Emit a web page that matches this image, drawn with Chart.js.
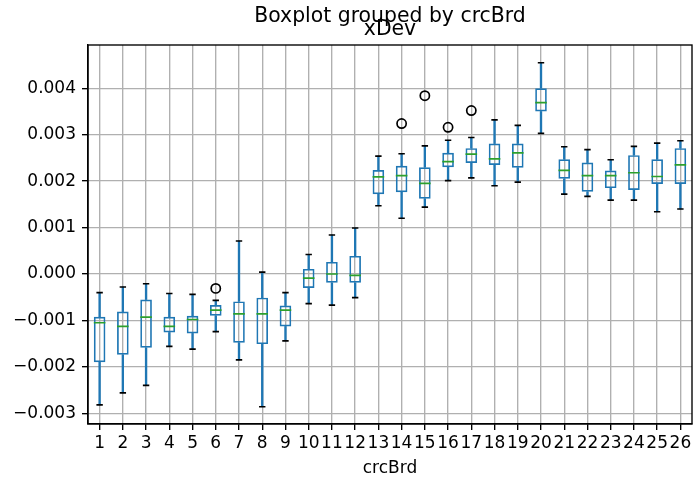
<!DOCTYPE html>
<html lang="en">
    <head>
        <meta charset="UTF-8">
        <title>xDev by crcBrd</title>
        <script src="https://cdn.jsdelivr.net/npm/chart.js@4.4.0/dist/chart.umd.min.js"></script>
        <style>
            body { margin: 0; background: #fff; }
            #wrap { width: 695px; height: 481px; }
        </style>
    </head>
    <body>
        <div id="wrap"><canvas id="boxChart"></canvas></div>
        <script>
            // values (x 0.001)
            var boards    = ['1','2','3','4','5','6','7','8','9','10','11','12','13','14','15','16','17','18','19','20','21','22','23','24','25','26'];
            var whiskLow  = [-2.82,-2.56,-2.40,-1.56,-1.62,-1.24,-1.85,-2.86,-1.44,-0.64,-0.67,-0.51, 1.47, 1.20, 1.44, 2.01, 2.07, 1.90, 1.98, 3.03, 1.72, 1.67, 1.59, 1.59, 1.34, 1.40];
            var q1        = [-1.90,-1.74,-1.59,-1.26,-1.28,-0.90,-1.48,-1.51,-1.13,-0.30,-0.19,-0.19, 1.72, 1.76, 1.62, 2.30, 2.39, 2.35, 2.29, 3.50, 2.05, 1.77, 1.85, 1.81, 1.94, 1.94];
            var median    = [-1.05,-1.13,-0.93,-1.13,-0.98,-0.78,-0.86,-0.86,-0.78,-0.09, 0.00,-0.03, 2.09, 2.12, 1.95, 2.42, 2.58, 2.48, 2.61, 3.69, 2.23, 2.12, 2.12, 2.18, 2.10, 2.35];
            var q3        = [-0.92,-0.81,-0.55,-0.92,-0.90,-0.67,-0.59,-0.51,-0.68, 0.11, 0.26, 0.39, 2.24, 2.33, 2.30, 2.61, 2.71, 2.81, 2.81, 4.00, 2.47, 2.40, 2.23, 2.56, 2.47, 2.71];
            var whiskHigh = [-0.40,-0.28,-0.21,-0.42,-0.44,-0.57, 0.71, 0.04,-0.40, 0.42, 0.84, 0.99, 2.54, 2.59, 2.76, 2.88, 2.94, 3.32, 3.20, 4.55, 2.74, 2.68, 2.46, 2.75, 2.82, 2.87];
            var fliers    = [null,null,null,null,null,-0.31,null,null,null,null,null,null,null, 3.24, 3.84, 3.16, 3.52,null,null,null,null,null,null,null,null,null];
            var yTicks    = [-3, -2, -1, 0, 1, 2, 3, 4];

            var suptitle = 'Boxplot grouped by crcBrd';
            var subtitle = 'xDev';

            function scaled(arr) {
                return arr.map(function (v) { return v === null ? null : v / 1000; });
            }
            var lo = scaled(whiskLow), b1 = scaled(q1), med = scaled(median), b3 = scaled(q3), hi = scaled(whiskHigh);

            var blue = '#1f77b4';
            var lw = 1.7;

            // draws the matplotlib-like frame and the two title lines
            var frame = {
                id: 'frame',
                afterDraw: function (chart) {
                    var ctx = chart.ctx, a = chart.chartArea;
                    ctx.save();
                    ctx.strokeStyle = '#000';
                    ctx.lineWidth = 1.36;
                    ctx.strokeRect(a.left, a.top, a.right - a.left, a.bottom - a.top);
                    ctx.fillStyle = '#000';
                    ctx.textAlign = 'center';
                    ctx.textBaseline = 'alphabetic';
                    ctx.font = '20.4px "DejaVu Sans"';
                    var cx = (a.left + a.right) / 2;
                    ctx.fillText(suptitle, cx, 22);
                    ctx.fillText(subtitle, cx, 35);
                    ctx.restore();
                }
            };

            var ctx = document.getElementById('boxChart').getContext('2d');
            var boxChart = new Chart(ctx, {
                type: 'bar',
                data: {
                    labels: boards,
                    datasets: [{
                        label: 'median',
                        type: 'line',
                        data: med,
                        showLine: false,
                        pointStyle: 'line',
                        pointRadius: 5.8,
                        pointBorderWidth: lw,
                        pointBorderColor: '#2ca02c',
                        order: 0
                    }, {
                        label: 'box',
                        data: boards.map(function (_, i) { return [b1[i], b3[i]]; }),
                        backgroundColor: 'rgba(0,0,0,0)',
                        borderColor: blue,
                        borderWidth: lw,
                        borderSkipped: false,
                        grouped: false,
                        barPercentage: 0.5,
                        categoryPercentage: 1,
                        order: 1
                    }, {
                        label: 'lower whisker',
                        data: boards.map(function (_, i) { return [lo[i], b1[i]]; }),
                        backgroundColor: blue,
                        borderWidth: 0,
                        grouped: false,
                        barThickness: lw,
                        order: 2
                    }, {
                        label: 'upper whisker',
                        data: boards.map(function (_, i) { return [b3[i], hi[i]]; }),
                        backgroundColor: blue,
                        borderWidth: 0,
                        grouped: false,
                        barThickness: lw,
                        order: 2
                    }, {
                        label: 'low cap',
                        type: 'line',
                        data: lo,
                        showLine: false,
                        pointStyle: 'line',
                        pointRadius: 3.2,
                        pointBorderWidth: lw,
                        pointBorderColor: '#000',
                        order: 0
                    }, {
                        label: 'high cap',
                        type: 'line',
                        data: hi,
                        showLine: false,
                        pointStyle: 'line',
                        pointRadius: 3.2,
                        pointBorderWidth: lw,
                        pointBorderColor: '#000',
                        order: 0
                    }, {
                        label: 'fliers',
                        type: 'line',
                        data: scaled(fliers),
                        showLine: false,
                        pointStyle: 'circle',
                        pointRadius: 4.6,
                        pointBorderWidth: lw,
                        pointBorderColor: '#000',
                        pointBackgroundColor: 'rgba(0,0,0,0)',
                        order: 0
                    }]
                },
                options: {
                    responsive: true,
                    maintainAspectRatio: false,
                    animation: false,
                    events: [],
                    layout: { autoPadding: false, padding: { top: 45, right: 3, left: 0, bottom: 0 } },
                    plugins: {
                        legend: { display: false },
                        tooltip: { enabled: false }
                    },
                    scales: {
                        x: {
                            type: 'category',
                            offset: true,
                            grid: { offset: false, color: '#b0b0b0', lineWidth: 1.36, tickLength: 6, tickColor: '#000', tickWidth: 1.36 },
                            border: { color: '#000', width: 1.36 },
                            ticks: { color: '#000', font: { family: 'DejaVu Sans', size: 17 }, maxRotation: 0, autoSkip: false, padding: 3 },
                            title: { display: true, text: 'crcBrd', color: '#000', font: { family: 'DejaVu Sans', size: 17 }, padding: { top: 4, bottom: 2 } },
                            afterFit: function (s) {
                                s.height = 57;
                                s.paddingLeft = 0;
                                s.paddingRight = 0;
                            }
                        },
                        y: {
                            min: -0.003231,
                            max: 0.004932,
                            afterBuildTicks: function (s) {
                                s.ticks = yTicks.map(function (v) { return { value: v / 1000 }; });
                            },
                            grid: { color: '#b0b0b0', lineWidth: 1.36, tickLength: 6, tickColor: '#000', tickWidth: 1.36 },
                            border: { color: '#000', width: 1.36 },
                            ticks: {
                                color: '#000',
                                font: { family: 'DejaVu Sans', size: 17 },
                                padding: 6,
                                callback: function (v) { return v.toFixed(3).replace('-', '\u2212'); }
                            },
                            afterFit: function (s) { s.width = 88; }
                        }
                    }
                },
                plugins: [frame]
            });
        </script>
    </body>
</html>
